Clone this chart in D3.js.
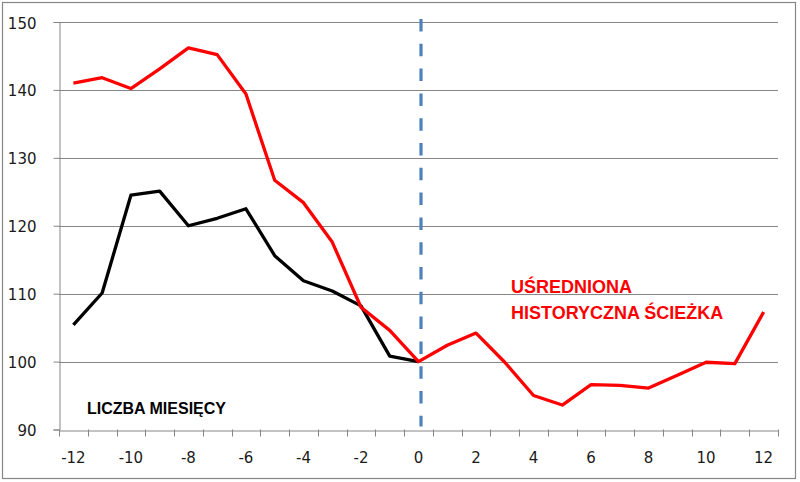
<!DOCTYPE html>
<html><head><meta charset="utf-8">
<script src="https://cdn.jsdelivr.net/npm/d3@7"></script>
<style>body{margin:0;background:#fff}svg{display:block}</style>
</head><body><svg id="c" width="800" height="482"></svg>
<script>
const months = [-12,-11,-10,-9,-8,-7,-6,-5,-4,-3,-2,-1,0,1,2,3,4,5,6,7,8,9,10,11,12];
const redValues = [141.0,141.8,140.2,143.1,146.2,145.2,139.4,126.7,123.4,117.6,108.0,104.6,100.0,102.4,104.2,99.9,95.0,93.6,96.6,96.5,96.1,98.0,99.9,99.7,107.3];
const blackMonths = [-12,-11,-10,-9,-8,-7,-6,-5,-4,-3,-2,-1,0];
const blackValues = [105.4,110.1,124.5,125.1,120.0,121.1,122.5,115.6,111.9,110.4,108.2,100.8,100.0];
const yTicks = [90,100,110,120,130,140,150];
const xLabels = [-12,-10,-8,-6,-4,-2,0,2,4,6,8,10,12];
const noteBlack = "LICZBA MIESIĘCY";
const noteRed = ["UŚREDNIONA","HISTORYCZNA ŚCIEŻKA"];

const svg = d3.select("#c");
const L=59, R=778, T=22, B=429.5;
const x = d3.scaleBand().domain(months).range([L,R]);
const cx = m => x(m)+x.bandwidth()/2;
const y = d3.scaleLinear().domain([90,150]).range([B,T]);
const grid="#868686";
const tickFont = "'DejaVu Sans', Verdana, sans-serif";
const noteFont = "'Liberation Sans', Arial, sans-serif";

svg.append("rect").attr("x",2.5).attr("y",2.5).attr("width",793).attr("height",476)
  .attr("fill","#fff").attr("stroke",grid).attr("stroke-width",1.2);

// gridlines
svg.append("g").selectAll("line").data(yTicks.filter(v=>v>90)).join("line")
  .attr("x1",L).attr("x2",R).attr("y1",d=>Math.round(y(d))+0.5).attr("y2",d=>Math.round(y(d))+0.5)
  .attr("stroke",grid).attr("stroke-width",1);

// y axis
const ya = svg.append("g").attr("transform",`translate(${L+0.5},0)`)
  .call(d3.axisLeft(y).tickValues(yTicks).tickSize(6).tickPadding(17).tickFormat(d3.format("d")));
ya.attr("font-family",null).attr("font-size",null);
ya.select(".domain").attr("stroke",grid);
ya.selectAll(".tick line").attr("stroke",grid);
ya.selectAll(".tick text").style("font-size","15px").style("font-family",tickFont).attr("fill","#1a1a1a").attr("dy","0.4em");

// x axis
const xa = svg.append("g").attr("transform",`translate(0,${Math.round(B)+0.5})`)
  .call(d3.axisBottom(x).tickSize(0).tickFormat(d=> xLabels.includes(d)? String(d) : ""));
xa.select(".domain").attr("stroke",grid);
xa.selectAll(".tick text").style("font-size","15px").style("font-family",tickFont).attr("fill","#1a1a1a").attr("y",32).attr("dy",0);
// ticks between categories
svg.append("g").selectAll("line").data(months.concat([null])).join("line")
  .attr("x1",(d,i)=> Math.round(i<months.length? x(d) : R)+0.5)
  .attr("x2",(d,i)=> Math.round(i<months.length? x(d) : R)+0.5)
  .attr("y1",B).attr("y2",B+7).attr("stroke",grid);

// dashed vertical line at 0
svg.append("line").attr("x1",cx(0)+2.5).attr("x2",cx(0)+2.5)
  .attr("y1",y(150)-3).attr("y2",y(90)-3)
  .attr("stroke","#4F81BD").attr("stroke-width",3.2).attr("stroke-dasharray","12.5,12.3");

const line = d3.line().x(d=>cx(d[0])).y(d=>y(d[1]));
svg.append("path").datum(blackMonths.map((m,i)=>[m,blackValues[i]])).attr("d",line)
  .attr("fill","none").attr("stroke","#000").attr("stroke-width",3.3).attr("stroke-linejoin","round");
svg.append("path").datum(months.map((m,i)=>[m,redValues[i]])).attr("d",line)
  .attr("fill","none").attr("stroke","#FF0000").attr("stroke-width",3.3).attr("stroke-linejoin","round");

svg.append("text").attr("x",87).attr("y",414).style("font-family",noteFont).style("font-size","16px").style("font-weight","bold").attr("fill","#000").text(noteBlack);
svg.append("g").selectAll("text").data(noteRed).join("text")
  .attr("x",511).attr("y",(d,i)=>292.5+i*26.6).style("font-family",noteFont).style("font-size","18px").style("font-weight","bold").attr("fill","#FF0000").text(d=>d);
</script></body></html>
